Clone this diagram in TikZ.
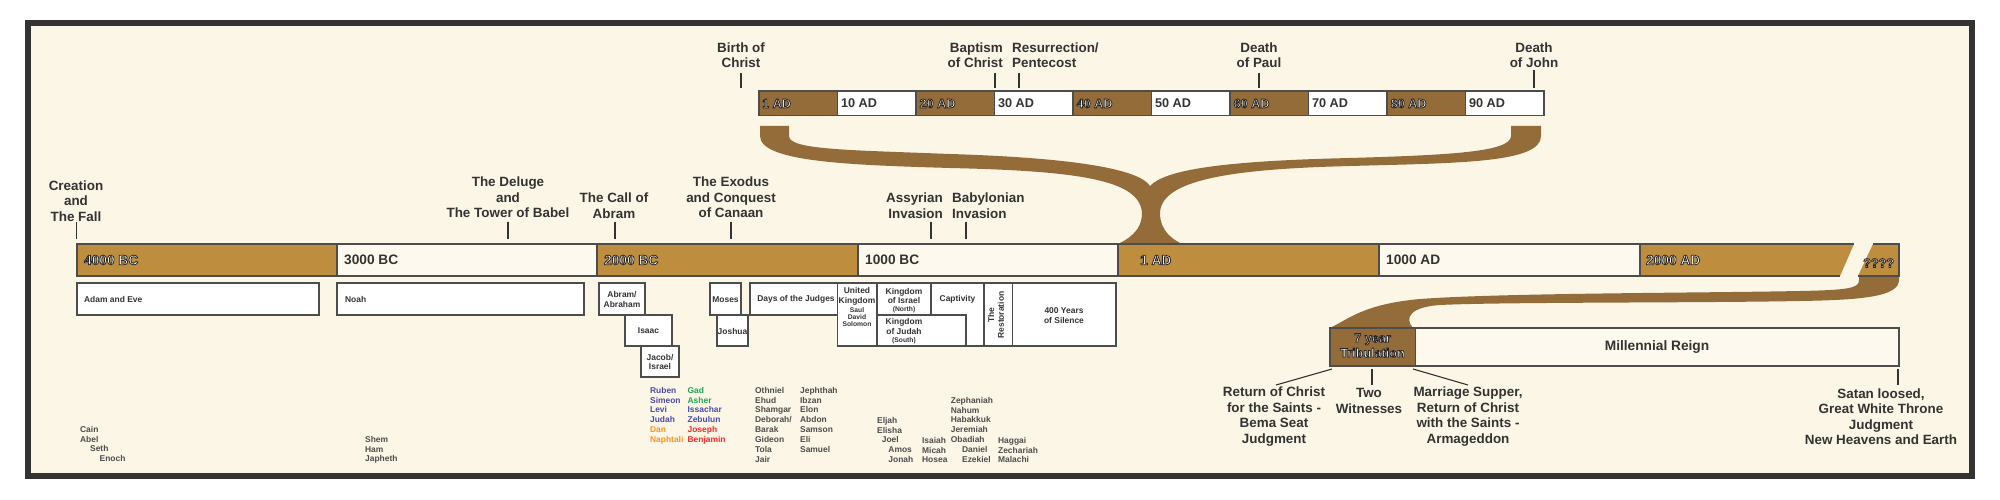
\documentclass[tikz,border=0pt]{standalone}
\usepackage{fontspec}
\setmainfont{Liberation Sans}
\usepackage{tikz}

\definecolor{cream}{HTML}{FCF6E7}
\definecolor{barcream}{HTML}{FEF9EE}
\definecolor{framegray}{HTML}{333333}
\definecolor{gold}{HTML}{BE8E3E}
\definecolor{bracebrown}{HTML}{946C3A}
\definecolor{edge}{HTML}{4D4D4D}
\definecolor{txtdark}{HTML}{333333}
\definecolor{namegray}{HTML}{4D4D4D}
\definecolor{tribeblue}{HTML}{4B4BA6}
\definecolor{tribeorange}{HTML}{F7941D}
\definecolor{tribegreen}{HTML}{1EA650}
\definecolor{tribered}{HTML}{EE2A2A}

\newcommand*\lblfont{\fontsize{19.1}{22}\selectfont\bfseries}
\newcommand*\barfont{\fontsize{19.5}{21}\selectfont\bfseries}
\newcommand*\sbarfont{\fontsize{18}{20}\selectfont\bfseries}
\newcommand*\tribfont{\fontsize{18}{21.3}\selectfont\bfseries}
\newcommand*\boxfont{\fontsize{12}{13.8}\selectfont\bfseries}
\newcommand*\minifont{\fontsize{9.6}{10.2}\selectfont\bfseries}
\newcommand*\namefont{\fontsize{12}{14}\selectfont\bfseries}
% white letters with a dark rim
\newcommand*\outl[1]{{\color{white}\special{pdf:literal direct q 2 Tr 0.15 0.15 0.15 RG 1.15 w}#1\special{pdf:literal direct Q}}}

\begin{document}
\begin{tikzpicture}[x=0.5mm, y=-0.5mm,
		lbl/.style={align=center, font=\lblfont, text=txtdark, inner sep=0pt},
		tick/.style={draw=txtdark, line width=0.55mm},
		seg/.style={draw=edge, line width=0.7mm},
		seglbl/.style={font=\barfont, text=txtdark, inner sep=0pt, anchor=west},
		sseglbl/.style={font=\sbarfont, text=txtdark, inner sep=0pt, anchor=west},
		box/.style={draw=edge, line width=0.6mm, fill=white},
		boxtxt/.style={font=\boxfont, text=txtdark, inner sep=0pt, align=center},
		minitxt/.style={font=\minifont, text=txtdark, inner sep=0pt, align=center},
		names/.style={font=\namefont, text=namegray, inner sep=0pt, align=left, anchor=north west}]
		\useasboundingbox (0,0) rectangle (2000,500);
%		\draw[help lines,step=100] (0,0) grid (2000,500);
		\fill[white] (0,0) rectangle (2000,500);
		\fill[framegray] (25,20) rectangle (1975,479);
		\fill[cream] (31,26) rectangle (1969,473);

		% the two brown braces
		\fill[bracebrown] (760,126) -- (789,126) -- (789,136)
			.. controls (789,150) and (850,150) .. (950,154)
			.. controls (1080,158) and (1140,170) .. (1150,186)
			.. controls (1165,170) and (1220,161) .. (1350,158)
			.. controls (1450,155) and (1511,152) .. (1511,136)
			-- (1511,126) -- (1541,126) -- (1541,136)
			.. controls (1541,163) and (1460,163) .. (1350,166)
			.. controls (1230,169) and (1161,180) .. (1160,213)
			.. controls (1160,232) and (1174,240) .. (1182,244)
			-- (1118,244)
			.. controls (1126,240) and (1142,232) .. (1142,213)
			.. controls (1140,180) and (1080,171) .. (950,168)
			.. controls (850,165) and (760,162) .. (760,136) -- cycle;
		\fill[bracebrown] (1330,328)
			.. controls (1350,318) and (1365,304) .. (1420,299)
			.. controls (1500,293) and (1700,293) .. (1800,291)
			.. controls (1850,290) and (1859,288) .. (1859,280)
			-- (1859,276) -- (1899,276) -- (1899,280)
			.. controls (1899,297) and (1860,300) .. (1800,301)
			.. controls (1700,303) and (1500,302) .. (1440,305)
			.. controls (1410,307) and (1404,318) .. (1413,328) -- cycle;

		% main time line
		\filldraw[seg, fill=gold] (77,244) rectangle (337,276);
		\filldraw[seg, fill=barcream] (337,244) rectangle (597,276);
		\filldraw[seg, fill=gold] (597,244) rectangle (858,276);
		\filldraw[seg, fill=barcream] (858,244) rectangle (1118,276);
		\filldraw[seg, fill=gold] (1118,244) rectangle (1379,276);
		\filldraw[seg, fill=barcream] (1379,244) rectangle (1640,276);
		\fill[gold] (1640,244) -- (1854,244) -- (1840,276) -- (1640,276) -- cycle;
		\draw[seg] (1854,244) -- (1640,244) -- (1640,276) -- (1840,276);
		\fill[gold] (1873,244) -- (1899,244) -- (1899,276) -- (1858,276) -- cycle;
		\draw[seg] (1873,244) -- (1899,244) -- (1899,276) -- (1858,276);

		\draw (84,260) node(bc4000) [seglbl] {\outl{4000 BC}};
		\draw (344,260) node(bc3000) [seglbl] {3000 BC};
		\draw (604,260) node(bc2000) [seglbl] {\outl{2000 BC}};
		\draw (865,260) node(bc1000) [seglbl] {1000 BC};
		\draw (1140,260) node(ad1) [seglbl] {\outl{1 AD}};
		\draw (1386,260) node(ad1000) [seglbl] {1000 AD};
		\draw (1646,260) node(ad2000) [seglbl] {\outl{2000 AD}};
		\draw (1863,263) node(adlast) [sseglbl] {\outl{????}};

		% first century line
		\filldraw[seg, fill=bracebrown] (759,91) rectangle (837.5,115.5);
		\filldraw[seg, fill=white] (837.5,91) rectangle (916,115.5);
		\filldraw[seg, fill=bracebrown] (916,91) rectangle (994.5,115.5);
		\filldraw[seg, fill=white] (994.5,91) rectangle (1073,115.5);
		\filldraw[seg, fill=bracebrown] (1073,91) rectangle (1151.5,115.5);
		\filldraw[seg, fill=white] (1151.5,91) rectangle (1230,115.5);
		\filldraw[seg, fill=bracebrown] (1230,91) rectangle (1308.5,115.5);
		\filldraw[seg, fill=white] (1308.5,91) rectangle (1387,115.5);
		\filldraw[seg, fill=bracebrown] (1387,91) rectangle (1465.5,115.5);
		\filldraw[seg, fill=white] (1465.5,91) rectangle (1544,115.5);

		\draw (762,103.5) node(y1) [sseglbl] {\outl{1 AD}};
		\draw (841,103.5) node(y10) [sseglbl] {10 AD};
		\draw (919.5,103.5) node(y20) [sseglbl] {\outl{20 AD}};
		\draw (998,103.5) node(y30) [sseglbl] {30 AD};
		\draw (1076.5,103.5) node(y40) [sseglbl] {\outl{40 AD}};
		\draw (1155,103.5) node(y50) [sseglbl] {50 AD};
		\draw (1233.5,103.5) node(y60) [sseglbl] {\outl{60 AD}};
		\draw (1312,103.5) node(y70) [sseglbl] {70 AD};
		\draw (1390.5,103.5) node(y80) [sseglbl] {\outl{80 AD}};
		\draw (1469,103.5) node(y90) [sseglbl] {90 AD};

		% events above the century line
		\draw (741,55) node(birth) [lbl] {Birth of\\Christ};
		\draw (1003,55) node(baptism) [lbl, align=right, anchor=east] {Baptism\\of Christ};
		\draw (1012,55) node(resurrection) [lbl, align=left, anchor=west] {Resurrection/\\Pentecost};
		\draw (1259,55) node(deathpaul) [lbl] {Death\\of Paul};
		\draw (1534,55) node(deathjohn) [lbl] {Death\\of John};
		\draw[tick] (741,73) coordinate (birth_t) -- (741,88) coordinate (birth_b);
		\draw[tick] (995,73) coordinate (baptism_t) -- (995,88) coordinate (baptism_b);
		\draw[tick] (1019,73) coordinate (resurrection_t) -- (1019,88) coordinate (resurrection_b);
		\draw[tick] (1259,73) coordinate (deathpaul_t) -- (1259,88) coordinate (deathpaul_b);
		\draw[tick] (1534,70) coordinate (deathjohn_t) -- (1534,88) coordinate (deathjohn_b);

		% events above the main line
		\draw (76,201) node(creation) [lbl] {Creation\\and\\The Fall};
		\draw (508,197.5) node(deluge) [lbl] {The Deluge\\and\\The Tower of Babel};
		\draw (614,205.5) node(callabram) [lbl] {The Call of\\Abram};
		\draw (731,197.5) node(exodus) [lbl] {The Exodus\\and Conquest\\of Canaan};
		\draw (943,205.5) node(assyrian) [lbl, align=right, anchor=east] {Assyrian\\Invasion};
		\draw (952,205.5) node(babylon) [lbl, align=left, anchor=west] {Babylonian\\Invasion};
		\draw[tick] (76.5,222) coordinate (creation_t) -- (76.5,239) coordinate (creation_b);
		\draw[tick] (508,222) coordinate (deluge_t) -- (508,239) coordinate (deluge_b);
		\draw[tick] (615,222) coordinate (callabram_t) -- (615,239) coordinate (callabram_b);
		\draw[tick] (731,222) coordinate (exodus_t) -- (731,239) coordinate (exodus_b);
		\draw[tick] (931,222) coordinate (assyrian_t) -- (931,239) coordinate (assyrian_b);
		\draw[tick] (966,222) coordinate (babylon_t) -- (966,239) coordinate (babylon_b);

		% people and periods
		\draw[box] (77,283) rectangle (319,315);
		\draw (84,299) node(adam) [boxtxt, anchor=west] {Adam and Eve};
		\draw[box] (337,283) rectangle (584,315);
		\draw (345,299) node(noah) [boxtxt, anchor=west] {Noah};
		\draw[box] (599,283) rectangle (645,315);
		\draw (622,299.5) node(abram) [boxtxt] {Abram/\\Abraham};
		\draw[box] (625,315) rectangle (672,346);
		\draw (648.5,331) node(isaac) [boxtxt] {Isaac};
		\draw[box] (641,346) rectangle (679,377);
		\draw (660,362) node(jacob) [boxtxt] {Jacob/\\Israel};
		\draw[box] (710,283) rectangle (741,315);
		\draw (725.5,299.5) node(moses) [boxtxt] {Moses};
		\draw[box] (717,315) rectangle (748,346);
		\draw (732.5,331) node(joshua) [boxtxt] {Joshua};
		\draw[box] (750,283) rectangle (837.5,315);
		\draw (796,299) node(judges) [boxtxt] {Days of the Judges};
		\draw[box] (837.5,283) rectangle (877,346);
		\draw (857,296) node(united) [boxtxt] {United\\Kingdom};
		\draw (857,317) node(unitedkings) [minitxt] {Saul\\David\\Solomon};
		\draw[box] (877,283) rectangle (931,315);
		\draw (904,296) node(israel) [boxtxt] {Kingdom\\of Israel};
		\draw (904,310) node(israelnorth) [minitxt] {(North)};
		\draw[box] (931,283) rectangle (984,346);
		\draw (957.5,299) node(captivity) [boxtxt] {Captivity};
		\draw[box] (877,315) rectangle (966,346);
		\draw (904,326.5) node(judah) [boxtxt] {Kingdom\\of Judah};
		\draw (904,340.5) node(judahsouth) [minitxt] {(South)};
		\draw[box] (984,283) rectangle (1012.5,346);
		\draw (996,315) node(restoration) [boxtxt, rotate=90] {The\\Restoration};
		\draw[box] (1012.5,283) rectangle (1116,346);
		\draw (1064,315.5) node(silence) [boxtxt] {400 Years\\of Silence};

		% names
		\draw (80,426) node(cain) [names] {Cain\\Abel\\\hspace*{5mm}Seth\\\hspace*{9.75mm}Enoch};
		\draw (365,436) node(shem) [names] {Shem\\Ham\\Japheth};
		\draw (650,387) node(tribes_a) [names] {\textcolor{tribeblue}{Ruben}\\\textcolor{tribeblue}{Simeon}\\\textcolor{tribeblue}{Levi}\\\textcolor{tribeblue}{Judah}\\\textcolor{tribeorange}{Dan}\\\textcolor{tribeorange}{Naphtali}};
		\draw (687.5,387) node(tribes_b) [names] {\textcolor{tribegreen}{Gad}\\\textcolor{tribegreen}{Asher}\\\textcolor{tribeblue}{Issachar}\\\textcolor{tribeblue}{Zebulun}\\\textcolor{tribered}{Joseph}\\\textcolor{tribered}{Benjamin}};
		\draw (755,387) node(judges_a) [names] {Othniel\\Ehud\\Shamgar\\Deborah/\\Barak\\Gideon\\Tola\\Jair};
		\draw (800,387) node(judges_b) [names] {Jephthah\\Ibzan\\Elon\\Abdon\\Samson\\Eli\\Samuel};
		\draw (877,417) node(prophets_a) [names] {Eljah\\Elisha\\\hspace*{2.35mm}Joel\\\hspace*{5.65mm}Amos\\\hspace*{5.65mm}Jonah};
		\draw (922,437) node(prophets_b) [names] {Isaiah\\Micah\\Hosea};
		\draw (950.7,397) node(prophets_c) [names] {Zephaniah\\Nahum\\Habakkuk\\Jeremiah\\Obadiah\\\hspace*{5.65mm}Daniel\\\hspace*{5.65mm}Ezekiel};
		\draw (998,437) node(prophets_d) [names] {Haggai\\Zechariah\\Malachi};

		% the end times
		\filldraw[seg, fill=bracebrown] (1330,328) rectangle (1415.5,366);
		\draw (1372.5,345.5) node(tribulation) [font=\tribfont, align=center, inner sep=0pt] {\outl{7 year}\\\outl{Tribulation}};
		\filldraw[seg, fill=barcream] (1415.5,328) rectangle (1899,366);
		\draw (1657,347) node(millennial) [font=\barfont, text=txtdark, inner sep=0pt] {Millennial Reign};

		\draw (1274,416.5) node(returnchrist) [lbl] {Return of Christ\\for the Saints -\\Bema Seat\\Judgment};
		\draw (1369,401) node(twowit) [lbl] {Two\\Witnesses};
		\draw (1468,416.5) node(marriage) [lbl] {Marriage Supper,\\Return of Christ\\with the Saints -\\Armageddon};
		\draw (1881,416.5) node(satan) [lbl] {Satan loosed,\\Great White Throne\\Judgment\\New Heavens and Earth};
		\draw[tick] (1332,369) coordinate (returnchrist_t) -- (1276,385) coordinate (returnchrist_b);
		\draw[tick] (1372,369) coordinate (twowit_t) -- (1372,385) coordinate (twowit_b);
		\draw[tick] (1413,369) coordinate (marriage_t) -- (1468,385) coordinate (marriage_b);
		\draw[tick] (1898,369) coordinate (satan_t) -- (1898,385) coordinate (satan_b);
	\end{tikzpicture}
\end{document}
